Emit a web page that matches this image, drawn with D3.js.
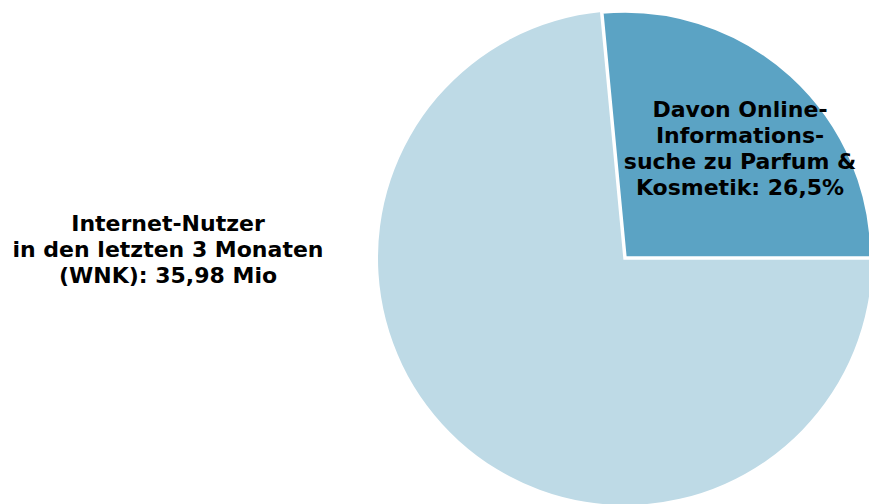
<!DOCTYPE html>
<html>
<head>
<meta charset="utf-8">
<script src="https://cdn.jsdelivr.net/npm/d3@7"></script>
<style>
  html, body { margin: 0; padding: 0; background: #fff; overflow: hidden; }
  svg { display: block; }
  text { font-family: Verdana, "DejaVu Sans", sans-serif; font-weight: bold; fill: #000; }
</style>
</head>
<body>
<svg id="chart" width="869" height="504"></svg>
<script>
// Share of internet users who searched online for perfume & cosmetics
const categories = ["Davon Online-Informationssuche zu Parfum & Kosmetik", "Übrige Internet-Nutzer"];
const values = [26.5, 73.5];
const colors = ["#5ba3c4", "#bedae6"];

const sliceLabel = ["Davon Online-", "Informations-", "suche zu Parfum &", "Kosmetik: 26,5%"];
const totalLabel = ["Internet-Nutzer", "in den letzten 3 Monaten", "(WNK): 35,98 Mio"];

const svg = d3.select("#chart");
const cx = 625, cy = 258, radius = 247;

const start = Math.PI / 2 - 2 * Math.PI * values[0] / d3.sum(values);
const pie = d3.pie().sort(null).startAngle(start).endAngle(start + 2 * Math.PI);
const arc = d3.arc().innerRadius(0).outerRadius(radius);

const g = svg.append("g").attr("transform", `translate(${cx},${cy})`);

// draw the large slice first so the highlighted slice's white edge sits on top
const arcs = pie(values).map((d, i) => ({ ...d, i }));
g.selectAll("path")
  .data([arcs[1], arcs[0]])
  .join("path")
  .attr("d", arc)
  .attr("fill", d => colors[d.i])
  .attr("stroke", "#fff")
  .attr("stroke-width", d => d.i === 0 ? 3.5 : 0)
  .attr("stroke-linejoin", "miter");

const fontSize = 22, lineH = 26;

svg.append("text")
  .attr("text-anchor", "middle")
  .attr("font-size", fontSize)
  .selectAll("tspan")
  .data(sliceLabel)
  .join("tspan")
  .attr("x", 740)
  .attr("y", (d, i) => 117 + i * lineH)
  .text(d => d);

svg.append("text")
  .attr("text-anchor", "middle")
  .attr("font-size", fontSize)
  .selectAll("tspan")
  .data(totalLabel)
  .join("tspan")
  .attr("x", 168)
  .attr("y", (d, i) => 231 + i * lineH)
  .text(d => d);
</script>
</body>
</html>
